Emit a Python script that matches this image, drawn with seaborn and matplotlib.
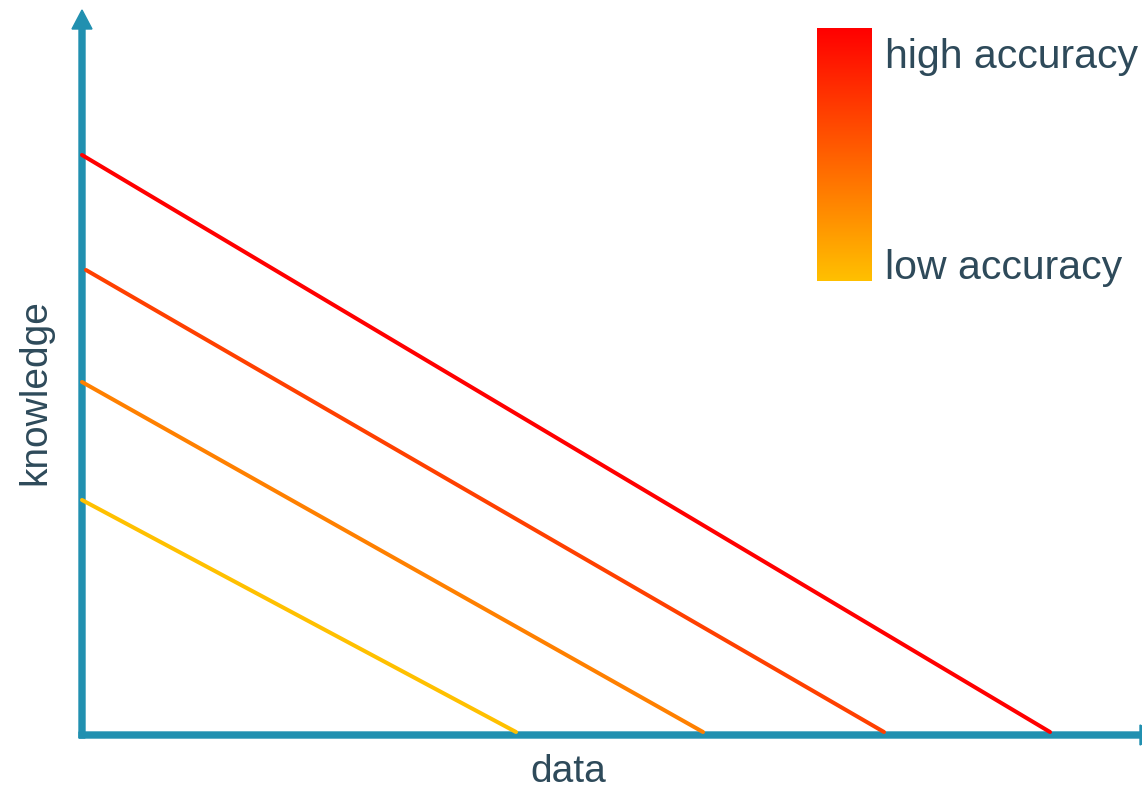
import numpy as np
import pandas as pd
import matplotlib
matplotlib.use("Agg")
import matplotlib.pyplot as plt
from matplotlib.colors import LinearSegmentedColormap
import seaborn as sns

# values (1 unit = 100 px)
accuracy = ["low", "medium-low", "medium-high", "high"]
knowledge_start = [2.35, 3.53, 4.65, 5.80]
data_start = [0.0, 0.0, 0.04, 0.0]
data_end = [4.34, 6.21, 8.02, 9.68]
knowledge_end = [0.03, 0.03, 0.03, 0.03]
line_colors = ["#FFC000", "#FF8000", "#FF4000", "#FF0000"]

AXIS_COLOR = "#2190B0"
TEXT_COLOR = "#2E4A5A"

rows = []
for acc, x0, y0, x1, y1 in zip(accuracy, data_start, knowledge_start, data_end, knowledge_end):
    rows.append({"accuracy": acc, "data": x0, "knowledge": y0})
    rows.append({"accuracy": acc, "data": x1, "knowledge": y1})
df = pd.DataFrame(rows)

sns.set_style("white")
plt.rcParams["font.family"] = ["Liberation Sans", "DejaVu Sans"]

fig = plt.figure(figsize=(11.42, 7.89), dpi=100)
ax = fig.add_axes([0, 0, 1, 1])

sns.lineplot(
    data=df,
    x="data",
    y="knowledge",
    hue="accuracy",
    palette=dict(zip(accuracy, line_colors)),
    legend=False,
    lw=2.9,
    zorder=4,
    ax=ax,
)

# axes drawn as arrows
ax.arrow(0, -0.03, 0, 7.28, width=0.06, head_width=0.2, head_length=0.19,
         length_includes_head=True, color=AXIS_COLOR, zorder=3)
ax.arrow(-0.03, 0, 10.8, 0, width=0.06, head_width=0.2, head_length=0.19,
         length_includes_head=True, color=AXIS_COLOR, zorder=3)

# accuracy colour bar
cmap = LinearSegmentedColormap.from_list("acc", [line_colors[0], line_colors[-1]])
grad = np.linspace(1, 0, 256).reshape(-1, 1)
ax.imshow(grad, cmap=cmap, extent=[7.35, 7.90, 4.54, 7.06], aspect="auto", zorder=2)
ax.text(8.03, 6.78, "high accuracy", fontsize=29.5, color=TEXT_COLOR, va="center", ha="left")
ax.text(8.03, 4.67, "low accuracy", fontsize=29.5, color=TEXT_COLOR, va="center", ha="left")

ax.text(4.86, -0.37, "data", fontsize=28, color=TEXT_COLOR, ha="center", va="center")
ax.text(-0.47, 3.43, "knowledge", fontsize=28, color=TEXT_COLOR, ha="center", va="center",
        rotation=90)

ax.set_xlim(-0.82, 10.60)
ax.set_ylim(-0.54, 7.35)
ax.set_axis_off()

fig.savefig("out.png", dpi=100)
